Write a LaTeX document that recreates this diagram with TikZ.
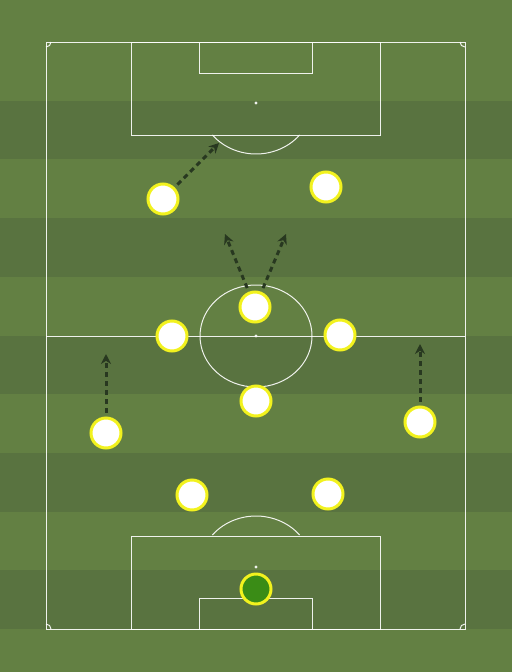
\documentclass[tikz,border=0pt]{standalone}
\usetikzlibrary{arrows.meta,shadows}
\definecolor{grass}{RGB}{99,128,67}
\definecolor{stripe}{RGB}{89,115,64}
\definecolor{shirt}{RGB}{242,242,30}
\definecolor{keeper}{RGB}{58,140,22}
\definecolor{run}{RGB}{40,56,32}
\begin{document}
\begin{tikzpicture}[x=1pt, y=-1pt,
  pitch/.style={white, line width=1pt, opacity=0.9},
  player/.style={draw=shirt, fill=white, circle, line width=3pt, minimum size=30pt, inner sep=0pt,
    drop shadow={opacity=0.25, shadow xshift=1pt, shadow yshift=-1pt}},
  runline/.style={run, line width=3pt, dash pattern=on 5pt off 4pt, shorten <=4pt,
    -{Stealth[length=10pt, width=10pt]}}]
\useasboundingbox (0,0) rectangle (512,672);
\fill[grass] (0,0) rectangle (512,672);
% stripes
\fill[stripe] (0,100.7) rectangle (512,159.4);
\fill[stripe] (0,218.1) rectangle (512,276.8);
\fill[stripe] (0,335.5) rectangle (512,394.2);
\fill[stripe] (0,452.9) rectangle (512,511.6);
\fill[stripe] (0,570.3) rectangle (512,629);
% pitch lines
\draw[pitch] (46,42) rectangle (465,629);
\draw[pitch] (46,336) -- (465,336);
\draw[pitch] (256,336) ellipse [x radius=56, y radius=51];
\fill[pitch] (256,336) circle [radius=1.6];
\draw[pitch] (131,42) rectangle (380,135);
\draw[pitch] (199,42) rectangle (312,73);
\fill[pitch] (256,103) circle [radius=1.6];
\draw[pitch] (256,103) ++(38.9:56 and 51) arc [start angle=38.9, end angle=141.1, x radius=56, y radius=51];
\draw[pitch] (131,536) rectangle (380,629);
\draw[pitch] (199,598) rectangle (312,629);
\fill[pitch] (256,567) circle [radius=1.6];
\draw[pitch] (256,567) ++(218.9:56 and 51) arc [start angle=218.9, end angle=321.1, x radius=56, y radius=51];
\draw[pitch] (51,42) arc [start angle=0, end angle=90, radius=5];
\draw[pitch] (460,42) arc [start angle=180, end angle=90, radius=5];
\draw[pitch] (51,629) arc [start angle=0, end angle=-90, radius=5];
\draw[pitch] (460,629) arc [start angle=180, end angle=270, radius=5];
% players
\node (1)[player] at (163,199) {};
\node (2)[player] at (326,187) {};
\node (3)[player] at (255,307) {};
\node (4)[player] at (172,336) {};
\node (5)[player] at (340,335) {};
\node (6)[player] at (256,401) {};
\node (7)[player] at (106,433) {};
\node (8)[player] at (420,422) {};
\node (9)[player] at (192,495) {};
\node (10)[player] at (328,494) {};
\node (11)[player, fill=keeper] at (256,589) {};
% runs
\coordinate (t1) at (219,143);
\coordinate (t2) at (225,234);
\coordinate (t3) at (286,234);
\coordinate (t4) at (106,354);
\coordinate (t5) at (420,344);
\draw[runline] (1) -- (t1);
\draw[runline] (3) -- (t2);
\draw[runline] (3) -- (t3);
\draw[runline] (7) -- (t4);
\draw[runline] (8) -- (t5);
\end{tikzpicture}
\end{document}
